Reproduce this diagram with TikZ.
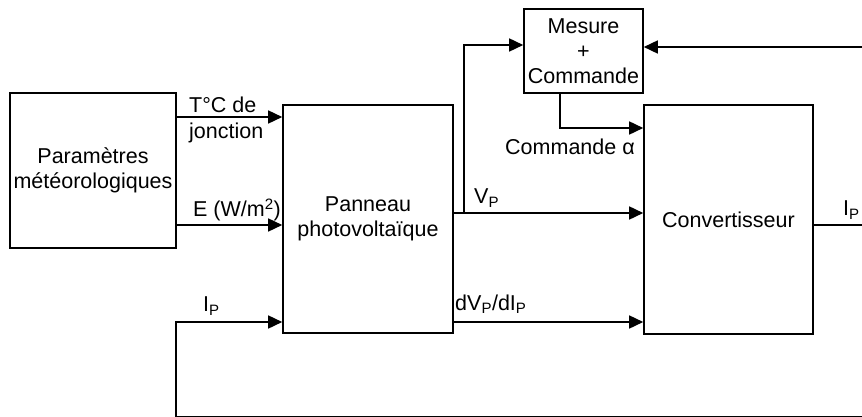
\documentclass[tikz,border=0pt]{standalone}
\usepackage{fontspec}
\setmainfont{Liberation Sans}
\usetikzlibrary{arrows.meta}
\tikzset{
    block/.style={draw, line width=1.6pt, align=center, inner sep=0pt, font=\fontsize{21.5}{25}\selectfont},
    edge/.style={draw, line width=1.6pt, -{Triangle[length=14pt, width=13pt]}},
    wire/.style={draw, line width=1.6pt},
    lbl/.style={anchor=west, align=left, inner sep=0pt, font=\fontsize{21.5}{26}\selectfont}
}

\begin{document}
\begin{tikzpicture}[x=1pt, y=-1pt]
    \useasboundingbox (0,0) rectangle (862,417);
    % Nodes
    \node[block, minimum width=166pt, minimum height=155pt] (Met) at (93,170.5) {Paramètres\\météorologiques};
    \node[block, minimum width=170pt, minimum height=228pt] (PV) at (368,219) {Panneau\\photovoltaïque};
    \node[block, minimum width=119pt, minimum height=84pt] (MC) at (583.5,51) {Mesure\\+\\Commande};
    \node[block, minimum width=169pt, minimum height=229pt] (Conv) at (728.5,219.5) {Convertisseur};

    % free ends
    \coordinate (Rtop) at (862,47);
    \coordinate (Rmid) at (862,225);
    \coordinate (Rbot) at (862,416.5);
    \coordinate (Ip) at (176,322);
    \coordinate (Vb) at (464,213);

    % edges
    \draw[edge] (Met.east |- 0,117) -- (PV.west |- 0,117);
    \draw[edge] (Met.east |- 0,225) -- (PV.west |- 0,225);
    \draw[edge] (Rbot) -| (Ip) -- (PV.west |- Ip);
    \draw[edge] (PV.east |- Vb) -- (Conv.west |- Vb);
    \draw[edge] (Vb) |- (MC.west |- 0,45);
    \draw[edge] (PV.east |- 0,322) -- (Conv.west |- 0,322);
    \draw[edge] (MC.south -| 560,0) |- (Conv.west |- 0,128);
    \draw[edge] (Rtop) -- (MC.east |- Rtop);
    \draw[wire] (Conv.east |- Rmid) -- (Rmid);

    % labels
    \node[lbl] (lT) at (189,120) {T°C de\\jonction};
    \node[lbl] (lE) at (193,210) {E (W/m\textsuperscript{2})};
    \node[lbl] (lI) at (203,306) {I\textsubscript{P}};
    \node[lbl] (lV) at (474,198) {V\textsubscript{P}};
    \node[lbl] (lD) at (455,304) {dV\textsubscript{P}/dI\textsubscript{P}};
    \node[lbl] (lA) at (505,147) {Commande α};
    \node[lbl] (lO) at (843,210) {I\textsubscript{P}};
\end{tikzpicture}
\end{document}
